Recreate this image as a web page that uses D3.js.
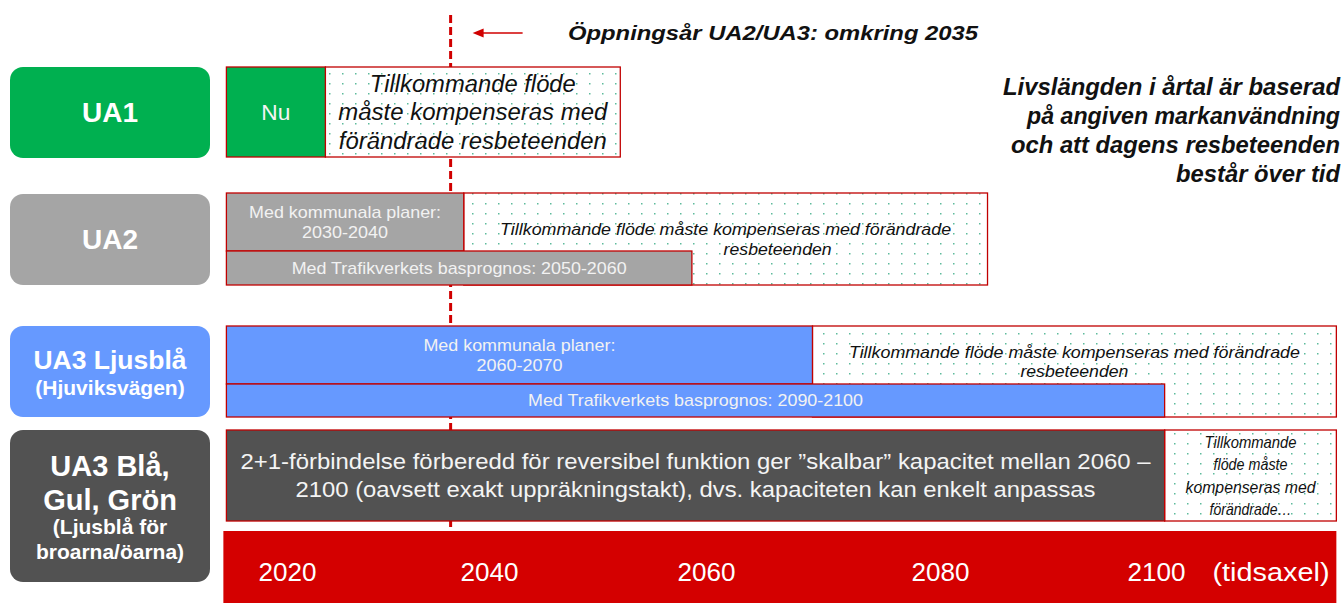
<!DOCTYPE html>
<html><head><meta charset="utf-8">
<script src="https://cdn.jsdelivr.net/npm/d3@7"></script>
<style>
body{margin:0;background:#fff;}
svg{display:block;font-family:"Liberation Sans",Arial,sans-serif;}
</style>
</head><body>
<svg id="chart" width="1344" height="603"></svg>
<script>
// ---------- DATA ----------
const categories = ["UA1", "UA2", "UA3 Ljusblå", "UA3 Blå, Gul, Grön"];
const categoryLines = [["UA1"], ["UA2"], ["UA3 Ljusblå", "(Hjuviksvägen)"], ["UA3 Blå,", "Gul, Grön", "(Ljusblå för", "broarna/öarna)"]];
const yearTicks = [2020, 2040, 2060, 2080, 2100];
const axisExtraLabel = "(tidsaxel)";
const axisSpan = [2013.7, 2116.7];
const openingYear = 2036.2;
const openingLabel = "Öppningsår UA2/UA3: omkring 2035";
const noteLines = ["Livslängden i årtal är baserad", "på angiven markanvändning", "och att dagens resbeteenden", "består över tid"];

// segments: row index, band (full/top/bottom), start year, end year, kind, text lines
const ua1Segments = [
  {row: 0, band: "full", from: 2014, to: 2023.8, kind: "solid", lines: ["Nu"]},
  {row: 0, band: "full", from: 2023.8, to: 2052.1, kind: "dotted", lines: ["Tillkommande flöde", "måste kompenseras med", "förändrade resbeteenden"]}
];
const ua2Segments = [
  {row: 1, band: "top", from: 2014, to: 2037.5, kind: "solid", lines: ["Med kommunala planer:", "2030-2040"]},
  {row: 1, band: "full", from: 2037.5, to: 2084.4, kind: "dotted", lines: ["Tillkommande flöde måste kompenseras med förändrade", "resbeteenden"]},
  {row: 1, band: "bottom", from: 2014, to: 2058.7, kind: "solid", lines: ["Med Trafikverkets basprognos: 2050-2060"]}
];
const ua3Segments = [
  {row: 2, band: "top", from: 2014, to: 2069.1, kind: "solid", lines: ["Med kommunala planer:", "2060-2070"]},
  {row: 2, band: "full", from: 2069.1, to: 2116.7, kind: "dotted", lines: ["Tillkommande flöde måste kompenseras med förändrade", "resbeteenden"]},
  {row: 2, band: "bottom", from: 2014, to: 2100.8, kind: "solid", lines: ["Med Trafikverkets basprognos: 2090-2100"]}
];
const ua3bSegments = [
  {row: 3, band: "full", from: 2014, to: 2100.8, kind: "solid", lines: ["2+1-förbindelse förberedd för reversibel funktion ger ”skalbar” kapacitet mellan 2060 –", "2100 (oavsett exakt uppräkningstakt), dvs. kapaciteten kan enkelt anpassas"]},
  {row: 3, band: "full", from: 2100.8, to: 2116.7, kind: "dotted", lines: ["Tillkommande", "flöde måste", "kompenseras med", "förändrade…"]}
];

// ---------- LAYOUT / STYLE ----------
const rowColors = ["#00b050", "#a5a5a5", "#6699ff", "#525252"];
const labelBoxes = [{y: 67, h: 91}, {y: 194, h: 91}, {y: 326, h: 91}, {y: 430, h: 152}];
const barBands = [
  {full: [67, 157]},
  {full: [193, 285], top: [193, 251], bottom: [251, 285]},
  {full: [326, 417], top: [326, 384], bottom: [384, 417]},
  {full: [430, 521]}
];
const segTextStyle = {
  "0-full-solid": {size: 22, lh: 28, fill: "#f4f4f4", style: "normal", widths: [29]},
  "0-full-dotted": {size: 23.5, lh: 28.5, fill: "#111", style: "italic", widths: [206, 269, 268]},
  "1-top-solid": {size: 17, lh: 20, fill: "#f2f2f2", style: "normal", widths: [192, 86]},
  "1-full-dotted": {size: 17, lh: 20, fill: "#111", style: "italic", widths: [451, 108], dxs: [0, 52]},
  "1-bottom-solid": {size: 17, lh: 20, fill: "#f2f2f2", style: "normal", widths: [335]},
  "2-top-solid": {size: 17, lh: 20, fill: "#f2f2f2", style: "normal", widths: [192, 86]},
  "2-full-dotted": {size: 17, lh: 19, fill: "#111", style: "italic", widths: [451, 108], dy: -10},
  "2-bottom-solid": {size: 17, lh: 20, fill: "#f2f2f2", style: "normal", widths: [335]},
  "3-full-solid": {size: 22.5, lh: 28, fill: "#f4f4f4", style: "normal", widths: [910, 800]},
  "3-full-dotted": {size: 16.5, lh: 22.5, fill: "#111", style: "italic", widths: [92, 74, 130, 82]}
};
const labelStyle = [
  [{size: 28}],
  [{size: 28}],
  [{size: 26.5}, {size: 21}],
  [{size: 29}, {size: 29}, {size: 21}, {size: 21}]
];
const labelLineY = [[112.5], [239.5], [360, 388], [466, 500, 527, 552]];

const svg = d3.select("#chart");
const x = d3.scaleLinear().domain(yearTicks).range([287, 489, 706, 940, 1156]);

const defs = svg.append("defs");
const pat = defs.append("pattern").attr("id", "dots").attr("patternUnits", "userSpaceOnUse")
  .attr("width", 13).attr("height", 10);
pat.append("rect").attr("width", 13).attr("height", 10).attr("fill", "#fff");
pat.append("rect").attr("x", 4).attr("y", 3).attr("width", 1.5).attr("height", 1.5).attr("fill", "#5dbb9c");

function textLines(g, cx, cy, lines, o) {
  const lh = o.lh || o.size * 1.2;
  const y0 = cy - (lines.length - 1) * lh / 2;
  lines.forEach((ln, i) => {
    const dx = (o.dxs && o.dxs[i]) || 0;
    const t = g.append("text").attr("x", cx + dx).attr("y", y0 + i * lh).attr("dy", "0.35em")
      .attr("text-anchor", o.anchor || "middle")
      .attr("font-size", o.size).attr("font-weight", o.weight || "normal")
      .attr("font-style", o.style || "normal").attr("fill", o.fill || "#000").text(ln);
    if (o.widths && o.widths[i]) t.attr("textLength", o.widths[i]).attr("lengthAdjust", "spacingAndGlyphs");
  });
}

// opening-year dashed line (behind bars)
const mx = x(openingYear);
svg.append("line").attr("x1", mx).attr("x2", mx).attr("y1", 15).attr("y2", 531)
  .attr("stroke", "#d00000").attr("stroke-width", 3).attr("stroke-dasharray", "8,4");
// arrow + label
svg.append("line").attr("x1", mx + 72).attr("x2", mx + 32).attr("y1", 33).attr("y2", 33)
  .attr("stroke", "#d00000").attr("stroke-width", 1.5);
svg.append("path").attr("d", `M${mx + 22},33 L${mx + 33},28.5 L${mx + 33},37.5 Z`).attr("fill", "#d00000");
textLines(svg, 568, 33, [openingLabel], {size: 21, weight: "bold", style: "italic", anchor: "start", fill: "#111", widths: [410]});

// note text at right
textLines(svg, 1340, 130.5, noteLines, {size: 23.5, lh: 29, weight: "bold", style: "italic", anchor: "end", fill: "#111",
  widths: [337, 313, 329, 164]});

// category label boxes
const lab = svg.append("g");
categories.forEach((c, i) => {
  const b = labelBoxes[i];
  lab.append("rect").attr("x", 10).attr("y", b.y).attr("width", 200).attr("height", b.h)
    .attr("rx", 13).attr("fill", rowColors[i]);
  categoryLines[i].forEach((ln, j) => {
    const st = labelStyle[i][j];
    lab.append("text").attr("x", 110).attr("y", labelLineY[i][j]).attr("dy", "0.35em")
      .attr("text-anchor", "middle").attr("font-size", st.size).attr("font-weight", "bold")
      .attr("fill", "#fff").text(ln);
  });
});

// bars
const allSegments = [ua1Segments, ua2Segments, ua3Segments, ua3bSegments];
const bars = svg.append("g");
allSegments.forEach(segs => {
  const ordered = segs.filter(s => s.kind === "dotted").concat(segs.filter(s => s.kind === "solid"));
  ordered.forEach(s => {
    const band = barBands[s.row][s.band];
    const x0 = x(s.from), x1 = x(s.to);
    bars.append("rect").attr("x", x0).attr("y", band[0]).attr("width", x1 - x0).attr("height", band[1] - band[0])
      .attr("fill", s.kind === "dotted" ? "url(#dots)" : rowColors[s.row])
      .attr("stroke", "#c00000").attr("stroke-width", 1.3);
  });
  ordered.forEach(s => {
    const band = barBands[s.row][s.band];
    const st = segTextStyle[s.row + "-" + s.band + "-" + s.kind];
    textLines(bars, (x(s.from) + x(s.to)) / 2, (band[0] + band[1]) / 2 + (st.dy || 0), s.lines, st);
  });
});

// time axis band
svg.append("rect").attr("x", x(axisSpan[0])).attr("y", 531).attr("width", x(axisSpan[1]) - x(axisSpan[0]))
  .attr("height", 72).attr("fill", "#d40000");
const axis = d3.axisBottom(x).tickValues(yearTicks).tickFormat(d3.format("d")).tickSize(0).tickPadding(0);
const ax = svg.append("g").attr("transform", "translate(0,572)").call(axis);
ax.select(".domain").remove();
ax.selectAll("text").attr("fill", "#fff").attr("font-size", 25).attr("y", 0).attr("dy", "0.35em")
  .attr("font-family", "'Liberation Sans',Arial,sans-serif").attr("textLength", 58).attr("lengthAdjust", "spacingAndGlyphs");
svg.append("text").attr("x", x(2100) + 115).attr("y", 572).attr("dy", "0.35em").attr("text-anchor", "middle")
  .attr("font-size", 25).attr("fill", "#fff").attr("textLength", 117).attr("lengthAdjust", "spacingAndGlyphs")
  .text(axisExtraLabel);
</script>
</body></html>
